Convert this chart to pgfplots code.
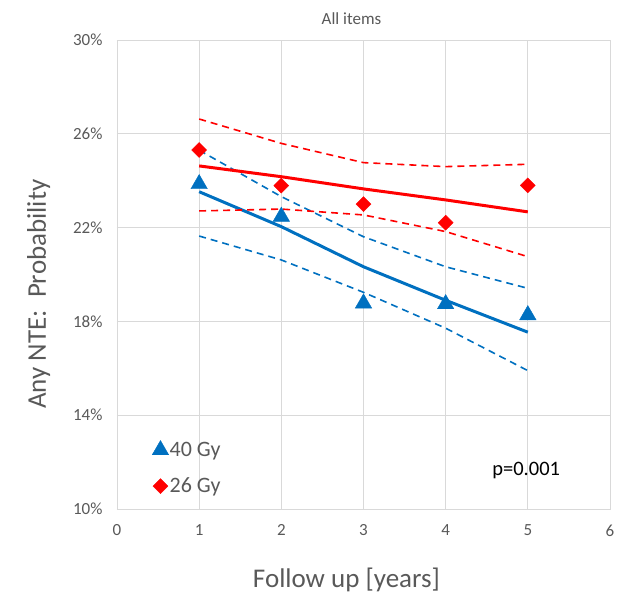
\documentclass[border=0pt]{standalone}
\usepackage{fontspec}
\setmainfont{Carlito}
\usepackage{pgfplots}
\pgfplotsset{compat=1.18}
\definecolor{gy40}{HTML}{0070C0}
\definecolor{gy26}{HTML}{FF0000}
\definecolor{txt}{HTML}{595959}
\definecolor{grd}{HTML}{D9D9D9}
\begin{document}
\begin{tikzpicture}
\useasboundingbox (-117pt,-84pt) rectangle (513pt,509pt);
\begin{axis}[
    at={(0,0)}, anchor=south west,
    scale only axis,
    width=493pt, height=469pt,
    xmin=0, xmax=6, ymin=10, ymax=30,
    xtick={0,...,6},
    ytick={10,14,...,30},
    yticklabel={\pgfmathprintnumber{\tick}\%},
    /pgf/number format/assume math mode=true,
    major tick length=0pt,
    grid=major,
    grid style={grd, line width=0.8pt},
    axis line style={grd, line width=0.8pt},
    tick label style={font=\fontsize{17}{20}\selectfont, text=txt},
    xticklabel style={yshift=-12pt},
    yticklabel style={xshift=-11pt},
    title={All items},
    title style={font=\fontsize{17}{20}\selectfont, text=txt, yshift=6pt, xshift=-12pt},
    xlabel={Follow up [years]},
    ylabel={Any NTE:\hspace{0.45em}Probability},
    label style={font=\fontsize{27}{30}\selectfont, text=txt},
    xlabel style={yshift=-25pt, xshift=-17pt},
    ylabel style={at={(ticklabel cs:0.458)}, yshift=16pt},
    legend style={at={(axis cs:0.39,13.03)}, anchor=north west, draw=none, fill=none,
        font=\fontsize{22}{26}\selectfont, text=txt, row sep=16pt,
        nodes={inner xsep=1pt}, legend cell align=left},
]
% observed points
\addplot[only marks, mark=triangle*, mark size=9.5pt, color=gy40]
  coordinates {(1,23.86) (2,22.47) (3,18.77) (4,18.74) (5,18.27)};
\addlegendentry{40 Gy}
\addplot[only marks, mark=square*, mark size=5.3pt, mark options={rotate=45}, color=gy26]
  coordinates {(1,25.31) (2,23.79) (3,23.0) (4,22.21) (5,23.8)};
\addlegendentry{26 Gy}

% fitted trends
\addplot[forget plot, gy40, line width=3pt]
  coordinates {(1,23.53) (2,22.04) (3,20.33) (4,18.9) (5,17.54)};
\addplot[forget plot, gy40, line width=1.6pt, dash pattern=on 7pt off 5pt]
  coordinates {(1,25.3) (2,23.32) (3,21.61) (4,20.33) (5,19.41)};
\addplot[forget plot, gy40, line width=1.6pt, dash pattern=on 7pt off 5pt]
  coordinates {(1,21.64) (2,20.62) (3,19.24) (4,17.71) (5,15.9)};

\addplot[forget plot, gy26, line width=3pt]
  coordinates {(1,24.63) (2,24.17) (3,23.65) (4,23.18) (5,22.67)};
\addplot[forget plot, gy26, line width=1.6pt, dash pattern=on 7pt off 5pt]
  coordinates {(1,26.63) (2,25.59) (3,24.77) (4,24.6) (5,24.7)};
\addplot[forget plot, gy26, line width=1.6pt, dash pattern=on 7pt off 5pt]
  coordinates {(1,22.71) (2,22.79) (3,22.54) (4,21.83) (5,20.76)};

\node[font=\fontsize{20.5}{24}\selectfont, text=black] at (axis cs:4.98,11.66) {p=0.001};
\end{axis}
\end{tikzpicture}
\end{document}
